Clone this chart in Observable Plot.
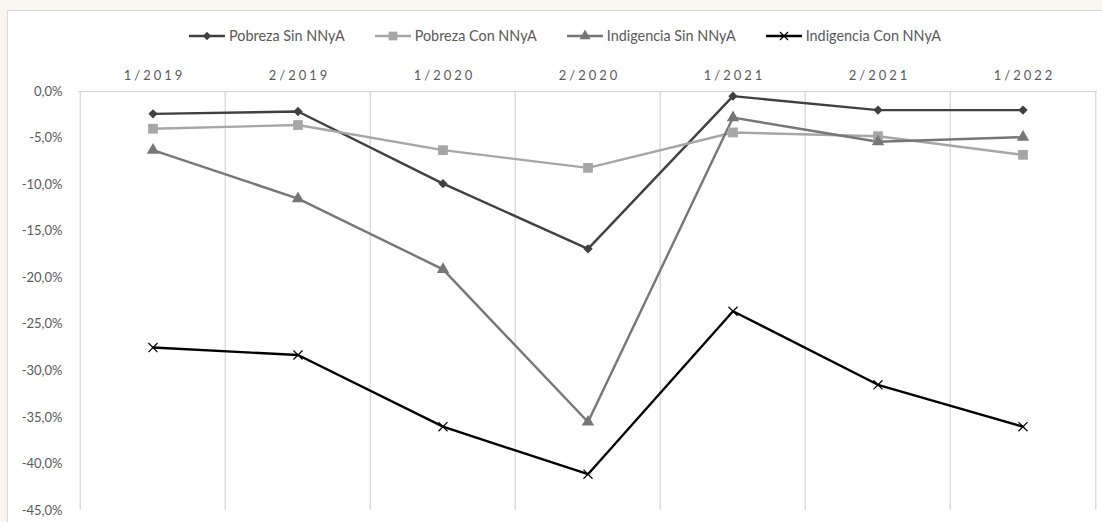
<!DOCTYPE html>
<html>
<head>
<meta charset="utf-8">
<script src="https://cdn.jsdelivr.net/npm/d3@7"></script>
<script src="https://cdn.jsdelivr.net/npm/@observablehq/plot@0.6"></script>
<style>
  html, body { margin: 0; padding: 0; background: #f7f7f0; overflow: hidden; width: 1102px; height: 522px; }
  #panel { position: absolute; left: 7px; top: 10px; width: 1200px; height: 600px; background: #fff; border: 1px solid #d9d9d9; box-sizing: border-box; }
  #legend { position: absolute; left: 189px; top: 27px; display: flex; align-items: center; font-family: Lato, sans-serif; font-size: 14.4px; color: #595959; white-space: nowrap; }
  .item { display: flex; align-items: center; margin-right: 30px; }
  .item svg { display: block; margin-right: 4px; }
  #chart { position: absolute; left: 0; top: 54px; }
</style>
</head>
<body>
<div id="panel"></div>
<div id="legend"></div>
<div id="chart"></div>
<script>
const categories = ["1/2019", "2/2019", "1/2020", "2/2020", "1/2021", "2/2021", "1/2022"];
const seriesNames = ["Pobreza Sin NNyA", "Pobreza Con NNyA", "Indigencia Sin NNyA", "Indigencia Con NNyA"];
const pobrezaSin    = [-2.4, -2.15, -9.9, -16.9, -0.5, -2.0, -2.0];
const pobrezaCon    = [-4.0, -3.6, -6.3, -8.2, -4.4, -4.8, -6.8];
const indigenciaSin = [-6.3, -11.5, -19.1, -35.5, -2.8, -5.4, -4.9];
const indigenciaCon = [-27.5, -28.3, -36.0, -41.1, -23.6, -31.5, -36.0];
const yTicks = [0, -5, -10, -15, -20, -25, -30, -35, -40, -45];

const seriesValues = [pobrezaSin, pobrezaCon, indigenciaSin, indigenciaCon];
const colors = ["#404040", "#a6a6a6", "#767676", "#000000"];
const symbols = ["diamond2", "square", "triangle", "times"];
const d3symbols = [d3.symbolDiamond2, d3.symbolSquare, d3.symbolTriangle, d3.symbolTimes];
const radii = [4.2, 5.5, 4.6, 4.2];

const data = [];
seriesNames.forEach((s, i) => categories.forEach((c, j) => data.push({series: s, cat: c, value: seriesValues[i][j]})));

const W = 1102, mL = 78, mR = 5;
const bw = (W - mL - mR) / categories.length;
const fmt = d => d.toFixed(1).replace(".", ",") + "%";

const marks = [
  Plot.ruleX(categories, {x: d => d, y1: -45, y2: 0, dx: -bw / 2, stroke: "#d4d4d4", strokeWidth: 1.2}),
  Plot.ruleX([categories[categories.length - 1]], {x: d => d, y1: -45, y2: 0, dx: bw / 2, stroke: "#d4d4d4", strokeWidth: 1.2}),
  Plot.ruleY([0], {stroke: "#d4d4d4", strokeWidth: 1.2})
];
seriesNames.forEach((s, i) => {
  const rows = data.filter(d => d.series === s);
  marks.push(Plot.line(rows, {x: "cat", y: "value", stroke: colors[i], strokeWidth: 2.4}));
});
seriesNames.forEach((s, i) => {
  const rows = data.filter(d => d.series === s);
  if (symbols[i] === "times") {
    marks.push(Plot.dot(rows, {x: "cat", y: "value", symbol: "times", r: radii[i], stroke: colors[i], strokeWidth: 1.2, fill: "none"}));
  } else {
    marks.push(Plot.dot(rows, {x: "cat", y: "value", symbol: symbols[i], r: radii[i], fill: colors[i], stroke: "none"}));
  }
});

const svg = Plot.plot({
  width: W, height: 468,
  marginLeft: mL, marginRight: mR, marginTop: 37, marginBottom: 12,
  style: {background: "transparent", fontFamily: "Lato, sans-serif", fontSize: "13px", color: "#595959", overflow: "visible"},
  x: {type: "band", domain: categories, padding: 0, axis: "top", tickSize: 0, tickPadding: 12, label: null},
  y: {domain: [-45, 0], ticks: yTicks, tickFormat: fmt, tickSize: 0, tickPadding: 16, label: null},
  marks
});
d3.select(svg).selectAll('[aria-label^="x-axis"] text').style("letter-spacing", "3px").attr("dx", "1.5");
document.getElementById("chart").appendChild(svg);

// legend
const legend = d3.select("#legend");
seriesNames.forEach((s, i) => {
  const item = legend.append("div").attr("class", "item");
  const sw = item.append("svg").attr("width", 36).attr("height", 14);
  sw.append("line").attr("x1", 0).attr("x2", 36).attr("y1", 7).attr("y2", 7).attr("stroke", colors[i]).attr("stroke-width", 2.6);
  const path = d3.symbol(d3symbols[i], Math.PI * radii[i] * radii[i] * 0.8)();
  const p = sw.append("path").attr("d", path).attr("transform", "translate(18,7)");
  if (symbols[i] === "times") p.attr("fill", "none").attr("stroke", colors[i]).attr("stroke-width", 1.3);
  else p.attr("fill", colors[i]);
  item.append("span").text(s);
});
</script>
</body>
</html>
